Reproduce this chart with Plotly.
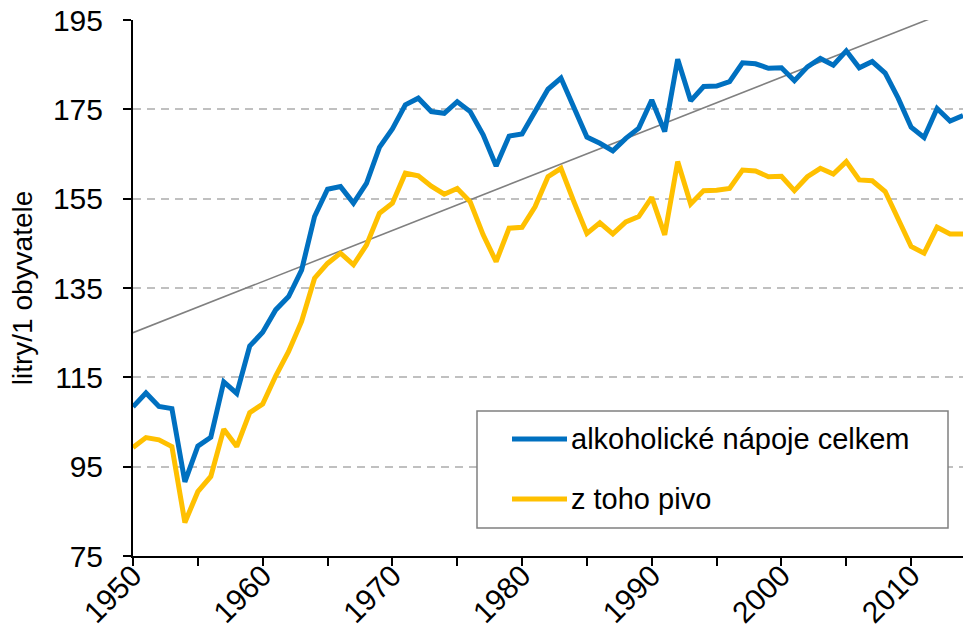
import plotly.graph_objects as go

# Annual consumption per capita (litres), 1950-2014
years = list(range(1950, 2015))

alcohol_total = [
    108.4, 111.5, 108.5, 108.0, 91.6, 99.6, 101.6, 114.0, 111.4, 122.0,
    125.1, 130.1, 133.1, 139.0, 151.0, 157.1, 157.7, 154.0, 158.4, 166.5,
    170.6, 176.0, 177.5, 174.5, 174.1, 176.7, 174.5, 169.3, 162.3, 169.0,
    169.5, 174.5, 179.5, 182.0, 175.3, 168.8, 167.4, 165.7, 168.5, 170.8,
    177.1, 170.0, 186.2, 176.9, 180.1, 180.2, 181.2, 185.4, 185.2, 184.2,
    184.3, 181.4, 184.5, 186.4, 184.9, 188.1, 184.3, 185.7, 183.1, 177.5,
    171.0, 168.7, 175.2, 172.4, 173.6,
]

beer = [
    99.3, 101.5, 101.0, 99.5, 82.5, 89.4, 92.8, 103.4, 99.5, 107.1,
    109.0, 115.3, 120.8, 127.5, 137.2, 140.5, 142.8, 140.2, 144.6, 151.7,
    154.0, 160.7, 160.1, 157.8, 156.0, 157.3, 154.3, 146.9, 140.9, 148.4,
    148.6, 153.2, 159.9, 161.8, 154.3, 147.2, 149.6, 147.1, 149.8, 151.0,
    155.3, 146.9, 163.3, 153.8, 156.8, 156.9, 157.3, 161.4, 161.2, 159.9,
    160.0, 156.8, 159.9, 161.8, 160.5, 163.3, 159.2, 159.0, 156.6, 150.2,
    144.3, 142.8, 148.6, 147.1, 147.1,
]

# Linear trend of total consumption (end points)
trend_years = [1950, 2014]
trend_values = [125.0, 198.2]

series_names = ["alkoholické nápoje celkem", "z toho pivo"]
series_colors = ["#0070C0", "#FFC000"]

x_ticks = list(range(1950, 2015, 10))
y_ticks = list(range(75, 196, 20))

FONT = "Liberation Sans, Arial, sans-serif"
W, H = 964, 631
ML, MR, MT, MB = 133, 1, 20, 75
PW, PH = W - ML - MR, H - MT - MB


def px_x(px):
    return (px - ML) / PW


def px_y(py):
    return (H - MB - py) / PH


fig = go.Figure()

fig.add_trace(go.Scatter(
    x=trend_years, y=trend_values, mode="lines",
    line=dict(color="#808080", width=1.6),
    showlegend=False, hoverinfo="skip",
))
fig.add_trace(go.Scatter(
    x=years, y=beer, mode="lines", name=series_names[1],
    line=dict(color=series_colors[1], width=5), showlegend=False,
))
fig.add_trace(go.Scatter(
    x=years, y=alcohol_total, mode="lines", name=series_names[0],
    line=dict(color=series_colors[0], width=5), showlegend=False,
))

# Legend box with line samples and labels
shapes = [dict(
    type="rect", xref="paper", yref="paper",
    x0=px_x(477), x1=px_x(948), y0=px_y(528), y1=px_y(411),
    line=dict(color="#808080", width=1.5), fillcolor="white", layer="above",
)]
annotations = []
for name, color, row_y in zip(series_names, series_colors, [439, 499]):
    shapes.append(dict(
        type="line", xref="paper", yref="paper",
        x0=px_x(512), x1=px_x(567), y0=px_y(row_y), y1=px_y(row_y),
        line=dict(color=color, width=5), layer="above",
    ))
    annotations.append(dict(
        xref="paper", yref="paper", x=px_x(569), y=px_y(row_y),
        xanchor="left", yanchor="middle", text=name, showarrow=False,
        font=dict(family=FONT, size=29, color="black"),
    ))

fig.update_layout(
    width=W, height=H,
    margin=dict(l=ML, r=MR, t=MT, b=MB, autoexpand=False),
    paper_bgcolor="white", plot_bgcolor="white",
    font=dict(family=FONT, size=29, color="black"),
    shapes=shapes, annotations=annotations,
)

fig.update_xaxes(
    range=[1950, 2014], tickvals=x_ticks, ticktext=[str(v) for v in x_ticks],
    tickangle=-45, ticks="outside", ticklen=8, tickwidth=2, tickcolor="black",
    showline=True, linecolor="black", linewidth=2, showgrid=False, zeroline=False,
    automargin=False, ticklabelstandoff=-20,
    minor=dict(dtick=5, tick0=1950, ticks="outside", ticklen=8, tickwidth=2,
               tickcolor="black", showgrid=False),
    tickfont=dict(family=FONT, size=30, color="black"),
)
fig.update_yaxes(
    range=[75, 195], tickvals=y_ticks,
    ticks="outside", ticklen=8, tickwidth=2, tickcolor="black",
    showline=True, linecolor="black", linewidth=2, zeroline=False,
    showgrid=True, gridcolor="#C0C0C0", gridwidth=2, griddash="8px,6px",
    automargin=False, ticklabelstandoff=14,
    tickfont=dict(family=FONT, size=30, color="black"),
    title=dict(text="litry/1 obyvatele", font=dict(family=FONT, size=28, color="black"),
               standoff=12),
)

fig.write_html("out.html")
